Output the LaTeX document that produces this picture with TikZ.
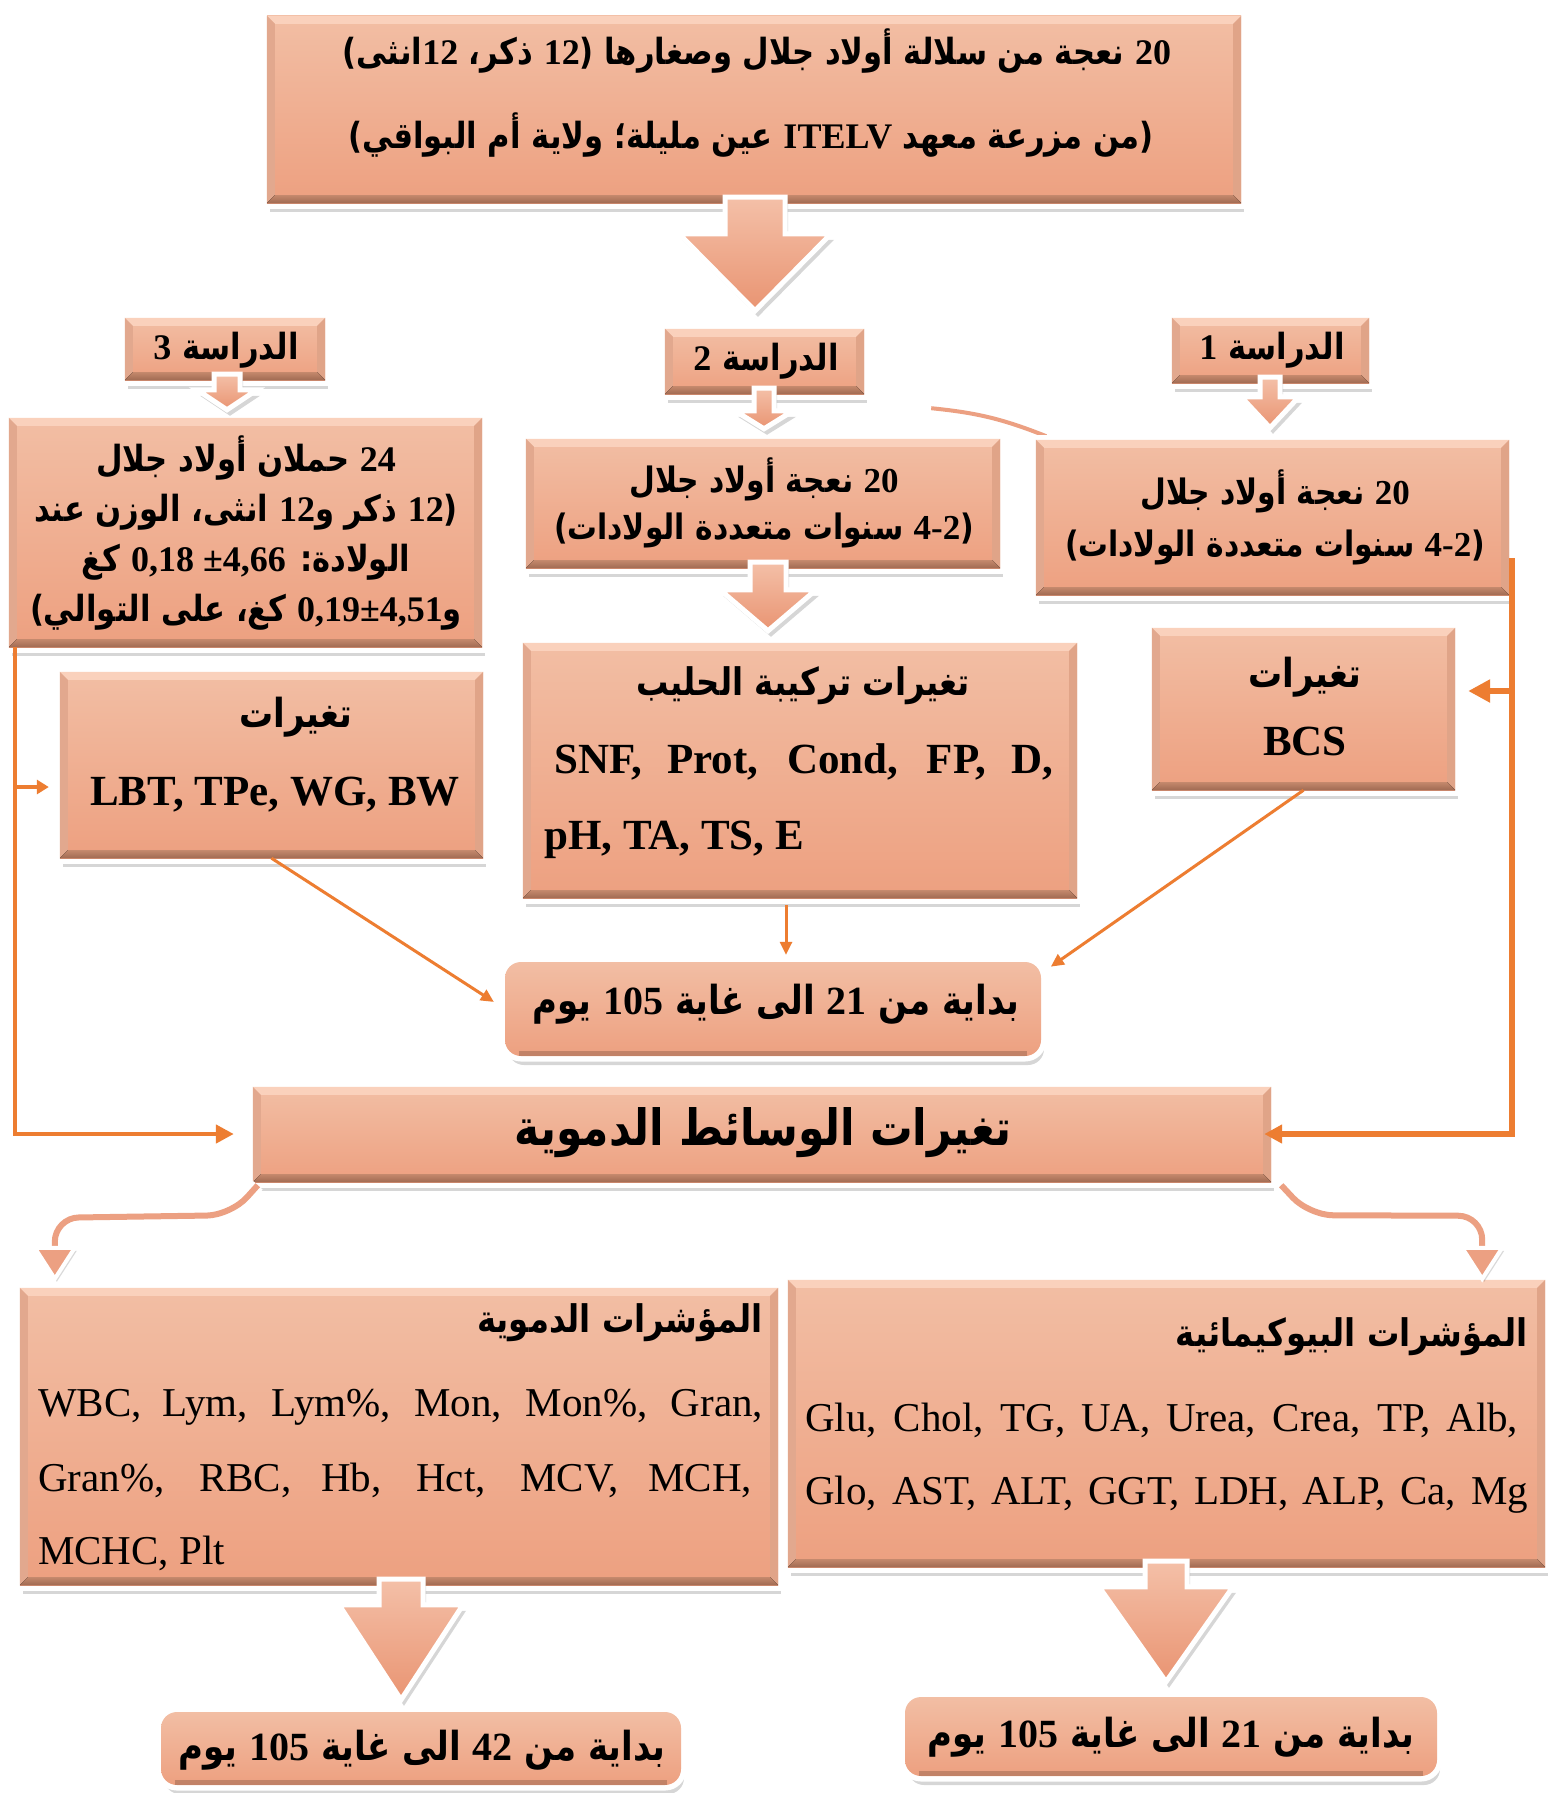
\documentclass[tikz,border=0pt]{standalone}
\usepackage{fontspec}
\setmainfont{Liberation Serif}
\newfontfamily\arabicfont[Script=Arabic,FakeStretch=0.85]{DejaVu Sans}
\TeXXeTstate=1
\usetikzlibrary{calc,fit,shadows,arrows.meta}

\definecolor{boxtop}{RGB}{242,190,164}
\definecolor{boxbot}{RGB}{237,160,128}
\definecolor{bevtop}{RGB}{250,209,188}
\definecolor{bevleft}{RGB}{226,168,142}
\definecolor{bevright}{RGB}{224,164,136}
\definecolor{bevbotA}{RGB}{196,136,108}
\definecolor{bevbotB}{RGB}{160,106,82}
\definecolor{linkor}{RGB}{237,125,49}
\definecolor{arrtop}{RGB}{244,192,168}
\definecolor{arrbot}{RGB}{233,148,114}
\definecolor{ribbon}{RGB}{236,160,130}

% Arabic line (right to left) and Latin numbers inside it
\newcommand\ar[1]{{\arabicfont\bfseries\beginR #1\endR}}
\newcommand\nm[1]{{\rmfamily\bfseries\beginL #1\endL}}
\newcommand\fs[1]{\fontsize{#1}{#1}\selectfont}

\tikzset{
  panel/.style={rectangle, inner sep=0pt, top color=boxtop, bottom color=boxbot,
    drop shadow={shadow xshift=3pt, shadow yshift=-9pt, opacity=0.16, fill=black},
    preaction={draw=white, line width=11pt}},
  roundpanel/.style={panel, rounded corners=16pt},
  txt/.style={inner sep=0pt, text=black},
  fat/.style={top color=arrtop, bottom color=arrbot, draw=white, line width=5pt,
    line join=miter,
    drop shadow={shadow xshift=3pt, shadow yshift=-6pt, opacity=0.16, fill=black}},
  link/.style={draw=linkor, line width=5pt, line join=miter,
    -{Triangle[length=18pt,width=18pt]}},
  thinlink/.style={draw=linkor, line width=3pt,
    -{Triangle[length=13pt,width=12pt]}},
  ribW/.style={draw=white, line width=13pt},
  ribP/.style={draw=ribbon, line width=6pt},
  ribhead/.style={fill=ribbon, draw=white, line width=4pt, line join=miter,
    drop shadow={shadow xshift=2pt, shadow yshift=-3pt, opacity=0.15, fill=black}},
}

% rectangular panel with bevelled rim
\newcommand\panel[5]{%
  \node[panel, fit={(#2,#3) (#4,#5)}] (#1) {};
  \fill[bevtop] (#1.north west) -- (#1.north east) -- ($(#1.north east)+(-8,8)$) -- ($(#1.north west)+(8,8)$) -- cycle;
  \fill[bevleft] (#1.north west) -- ($(#1.north west)+(8,8)$) -- ($(#1.south west)+(8,-8)$) -- (#1.south west) -- cycle;
  \fill[bevright] (#1.north east) -- ($(#1.north east)+(-8,8)$) -- ($(#1.south east)+(-8,-8)$) -- (#1.south east) -- cycle;
  \fill[top color=bevbotA, bottom color=bevbotB] (#1.south west) -- (#1.south east) -- ($(#1.south east)+(-8,-8)$) -- ($(#1.south west)+(8,-8)$) -- cycle;
}
% rounded panel
\newcommand\rpanel[5]{%
  \node[roundpanel, fit={(#2,#3) (#4,#5)}] (#1) {};
  \draw[bevbotB, opacity=0.55, line width=5pt] ($(#1.south west)+(14,-3)$) -- ($(#1.south east)+(-14,-3)$);
}
% block arrow: source, target, centre x, shaft half width, head half width, head length, gap above target
\newcommand\fatarrow[7]{%
  \coordinate (fc) at (#3,0);
  \path[fat] ($(#1.south -| fc)+(-#4,-6)$) -- ($(#1.south -| fc)+(#4,-6)$)
    -- ($(#2.north -| fc)+(#4,-#7-#6)$) -- ($(#2.north -| fc)+(#5,-#7-#6)$)
    -- ($(#2.north -| fc)+(0,-#7)$)
    -- ($(#2.north -| fc)+(-#5,-#7-#6)$) -- ($(#2.north -| fc)+(-#4,-#7-#6)$) -- cycle;
}

\begin{document}
\begin{tikzpicture}[x=1pt,y=-1pt]
\useasboundingbox (0,0) rectangle (1549,1793);
\fill[white] (0,0) rectangle (1549,1793);

% ---------- top ----------
\panel{top}{267}{16}{1241}{203}
\node[txt,font=\fs{36}] (top1) at (757,51)
  {\ar{\nm{20} نعجة من سلالة أولاد جلال وصغارها (\nm{12} ذكر، \nm{12}انثى)}};
\node[txt,font=\fs{36}] (top2) at (751,135)
  {\ar{(من مزرعة معهد \nm{ITELV} عين مليلة؛ ولاية أم البواقي)}};

% ---------- study labels ----------
\panel{lab3}{125}{318}{325}{380}
\panel{lab2}{665}{329}{864}{394}
\panel{lab1}{1172}{318}{1369}{383}
\node[txt,font=\fs{36}] (lab3t) at (226,350) {\ar{الدراسة \nm{3}}};
\node[txt,font=\fs{36}] (lab2t) at (766,361) {\ar{الدراسة \nm{2}}};
\node[txt,font=\fs{36}] (lab1t) at (1272,350) {\ar{الدراسة \nm{1}}};

\fatarrow{top}{lab2}{755}{30}{76}{77}{18}

% ---------- study boxes ----------
\panel{s3box}{9}{418}{482}{647}
\node[txt,align=center,font=\fontsize{36}{50}\selectfont] (s3t) at (246,533)
  {\ar{\nm{24} حملان أولاد جلال}\\
   \ar{(\nm{12} ذكر و\nm{12} انثى، الوزن عند}\\
   \ar{الولادة: \nm{0,18 ±4,66} كغ}\\
   \ar{و\nm{0,19±4,51} كغ، على التوالي)}};

\panel{s2box}{526}{439}{1000}{568}
\node[txt,align=center,font=\fontsize{35}{47}\selectfont] (s2t) at (764,503)
  {\ar{\nm{20} نعجة أولاد جلال}\\ \ar{(\nm{4-2} سنوات متعددة الولادات)}};

% swoosh between the two upper boxes
\draw[draw=white, line width=9pt] ($(lab2.south east)+(65,14)$) to[bend left=8] ($(lab2.south east)+(182,42)$);
\draw[draw=ribbon, line width=4pt] ($(lab2.south east)+(67,14)$) to[bend left=8] ($(lab2.south east)+(182,42)$);

\panel{s1box}{1036}{440}{1509}{595}
\node[txt,align=center,font=\fontsize{35}{52}\selectfont] (s1t) at (1275,517)
  {\ar{\nm{20} نعجة أولاد جلال}\\ \ar{(\nm{4-2} سنوات متعددة الولادات)}};

\fatarrow{lab3}{s3box}{227}{13}{30}{20}{8}
\fatarrow{lab2}{s2box}{764}{10}{29}{18}{10}
\fatarrow{lab1}{s1box}{1270}{10}{29}{31}{12}

% ---------- variables ----------
\panel{lbt}{60}{672}{483}{858}
\node[txt,font=\fs{40}] (lbtA) at (296,717) {\ar{تغيرات}};
\node[txt,font=\bfseries\fs{43}] (lbtB) at (275,795) {LBT, TPe, WG, BW};

\panel{milk}{523}{643}{1077}{898}
\node[txt,font=\fs{38}] (milkA) at (803,686) {\ar{تغيرات تركيبة الحليب}};
\node[txt,anchor=west,font=\bfseries\fs{43}] (milkB) at (554,762)
  {\makebox[499pt][s]{SNF, Prot, Cond, FP, D,}};
\node[txt,anchor=west,font=\bfseries\fs{43}] (milkC) at (544,840) {pH, TA, TS, E};

\fatarrow{s2box}{milk}{768}{18}{48}{41}{12}

\panel{bcs}{1152}{628}{1455}{790}
\node[txt,font=\fs{40}] (bcsA) at (1305,677) {\ar{تغيرات}};
\node[txt,font=\bfseries\fs{43}] (bcsB) at (1305,741) {BCS};

% ---------- period ----------
\rpanel{mid}{505}{962}{1041}{1056}
\node[txt,font=\fs{40}] (midt) at (776,1004) {\ar{بداية من \nm{21} الى غاية \nm{105} يوم}};

% ---------- blood parameters ----------
\panel{blood}{253}{1087}{1271}{1182}
\node[txt,font=\fs{50}] (bloodt) at (763,1133) {\ar{تغيرات الوسائط الدموية}};

% ---------- orange connectors ----------
\coordinate (lx) at (15,0);
\coordinate (yb) at (0,1134);
\coordinate (yl) at (0,787);
\coordinate (r0) at (1512,558);
\coordinate (yc) at (0,691);
\coordinate (mx) at (786,0);
\draw[link, line width=4.5pt, shorten >=19pt] (s3box.south -| lx) -- (lx |- yb) -- (blood.west |- yb);
\draw[link, line width=4.5pt, -{Triangle[length=12pt,width=14pt]}, shorten >=11pt] (lx |- yl) -- (lbt.west |- yl);
\draw[link, line width=6pt, shorten >=-7pt] (r0) -- (r0 |- yb) -- (blood.east |- yb);
\draw[link, line width=6pt, -{Triangle[length=22pt,width=22pt]}, shorten >=13pt] (r0 |- yc) -- (bcs.east |- yc);
\draw[thinlink, shorten >=13pt] (lbt.south) -- (mid.west);
\draw[thinlink, shorten <=7pt, shorten >=7pt] (milk.south -| mx) -- (mid.north -| mx);
\draw[thinlink, shorten >=2pt] (bcs.south) -- ($(mid.north east)+(8,6)$);

% ---------- indicator panels ----------
\panel{bio}{788}{1280}{1545}{1567}
\panel{hema}{20}{1288}{778}{1585}

% curved arrows to the two parameter groups
\draw[ribW, rounded corners=24pt] ($(blood.south west)+(5,3)$) -- ($(blood.south west)+(-22,33)$) -- ($(hema.north west)+(35,-70)$) -- ($(hema.north west)+(35,-36)$);
\draw[ribP, rounded corners=24pt] ($(blood.south west)+(5,3)$) -- ($(blood.south west)+(-22,33)$) -- ($(hema.north west)+(35,-70)$) -- ($(hema.north west)+(35,-36)$);
\draw[ribhead] ($(hema.north west)+(35,-9)$) -- ($(hema.north west)+(15,-40)$) -- ($(hema.north west)+(55,-40)$) -- cycle;

\draw[ribW, rounded corners=24pt] ($(blood.south east)+(10,3)$) -- ($(blood.south east)+(38,33)$) -- ($(bio.north east)+(-63,-64)$) -- ($(bio.north east)+(-63,-32)$);
\draw[ribP, rounded corners=24pt] ($(blood.south east)+(10,3)$) -- ($(blood.south east)+(38,33)$) -- ($(bio.north east)+(-63,-64)$) -- ($(bio.north east)+(-63,-32)$);
\draw[ribhead] ($(bio.north east)+(-63,-1)$) -- ($(bio.north east)+(-83,-32)$) -- ($(bio.north east)+(-43,-32)$) -- cycle;

\node[txt,anchor=east,font=\fs{38}] (hemaA) at (763,1323) {\ar{المؤشرات الدموية}};
\node[txt,anchor=west,font=\fs{41}] (hemaB) at (38,1407)
  {\makebox[725pt][s]{WBC, Lym, Lym\%, Mon, Mon\%, Gran,}};
\node[txt,anchor=west,font=\fs{41}] (hemaC) at (38,1480)
  {\makebox[714pt][s]{Gran\%, RBC, Hb, Hct, MCV, MCH,}};
\node[txt,anchor=west,font=\fs{41}] (hemaD) at (38,1553) {MCHC, Plt};

\node[txt,anchor=east,font=\fs{38}] (bioA) at (1528,1337) {\ar{المؤشرات البيوكيمائية}};
\node[txt,anchor=west,font=\fs{41}] (bioB) at (805,1420)
  {\makebox[713pt][s]{Glu, Chol, TG, UA, Urea, Crea, TP, Alb,}};
\node[txt,anchor=west,font=\fs{41}] (bioC) at (805,1495)
  {\makebox[723pt][s]{Glo, AST, ALT, GGT, LDH, ALP, Ca, Mg}};

% ---------- final periods ----------
\rpanel{bl}{161}{1712}{681}{1785}
\rpanel{br}{905}{1697}{1437}{1776}
\fatarrow{hema}{bl}{401}{22}{62}{95}{12}
\fatarrow{bio}{br}{1166}{21}{67}{95}{15}
\node[txt,font=\fs{40}] (blt) at (422,1750) {\ar{بداية من \nm{42} الى غاية \nm{105} يوم}};
\node[txt,font=\fs{40}] (brt) at (1171,1737) {\ar{بداية من \nm{21} الى غاية \nm{105} يوم}};
\end{tikzpicture}
\end{document}
